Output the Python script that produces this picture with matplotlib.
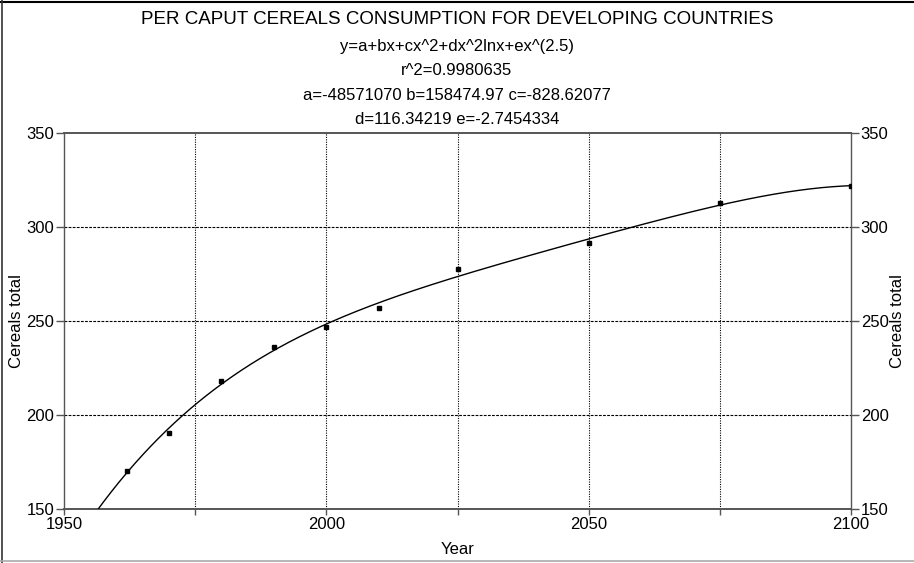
import numpy as np
import matplotlib
matplotlib.use("Agg")
import matplotlib.pyplot as plt
from matplotlib.lines import Line2D

# Observed / projected per caput cereals consumption
years = [1962, 1970, 1980, 1990, 2000, 2010, 2025, 2050, 2075, 2100]
cereals = [170.4, 190.3, 218.1, 236.3, 246.8, 256.8, 277.7, 291.3, 312.6, 321.8]

title = "PER CAPUT CEREALS CONSUMPTION FOR DEVELOPING COUNTRIES"
eq_lines = [
    "y=a+bx+cx^2+dx^2lnx+ex^(2.5)",
    "r^2=0.9980635",
    "a=-48571070 b=158474.97 c=-828.62077",
    "d=116.34219 e=-2.7454334",
]
x_ticks = [1950, 2000, 2050, 2100]
x_minor = [1975, 2025, 2075]
y_ticks = [150, 200, 250, 300, 350]

plt.rcParams["font.family"] = ["Liberation Sans", "DejaVu Sans"]

W, H = 914, 563
fig = plt.figure(figsize=(W / 100, H / 100), dpi=100)

L, R, T, B = 64, 851, 133, 509
ax = fig.add_axes([L / W, 1 - B / H, (R - L) / W, (B - T) / H])
ax.set_xlim(1950, 2100)
ax.set_ylim(150, 350)

# Least-squares fit of y = a + b x + c x^2 + d x^2 ln x + e x^2.5 (x scaled for conditioning)
xd = np.array(years, dtype=float)
yd = np.array(cereals, dtype=float)
def basis(x):
    t = x / 2000.0
    return np.column_stack([np.ones_like(t), t, t**2, t**2 * np.log(t), t**2.5])
coef, *_ = np.linalg.lstsq(basis(xd), yd, rcond=None)
xc = np.linspace(1950, 2100, 600)
yc = basis(xc) @ coef

# grid
for xv in [1975, 2000, 2025, 2050, 2075]:
    ax.axvline(xv, color="black", lw=0.8, dashes=(1, 1.2), zorder=1)
for yv in [200, 250, 300]:
    ax.axhline(yv, color="black", lw=0.8, dashes=(2.5, 1.2), zorder=1)

ax.plot(xc, yc, color="black", lw=1.0, zorder=3)
ax.plot(xd, yd, "s", color="black", ms=2.3, zorder=4)

for side in ["top", "bottom"]:
    ax.spines[side].set_color("#555555")
    ax.spines[side].set_linewidth(1.4)
for side in ["left", "right"]:
    ax.spines[side].set_color("#555555")
    ax.spines[side].set_linewidth(1.0)

fs = 12
ax.set_xticks(x_ticks)
ax.set_xticks(x_minor, minor=True)
ax.set_yticks(y_ticks)
ax.tick_params(axis="x", which="both", direction="out", length=4, width=1, color="#555555",
               labelsize=fs, pad=2)
ax.tick_params(axis="y", which="both", direction="out", length=6, width=1, color="#555555",
               labelsize=fs, pad=1, left=True, right=True, labelleft=True, labelright=True)
ax.set_xlabel("Year", fontsize=fs, labelpad=7)
fig.text(17 / W, 1 - 321 / H, "Cereals total", rotation=90, ha="center", va="center", fontsize=fs)
fig.text(898 / W, 1 - 321 / H, "Cereals total", rotation=90, ha="center", va="center", fontsize=fs)

fig.text(457 / W, 1 - 20 / H, title, ha="center", va="center", fontsize=13.5)
for i, line in enumerate(eq_lines):
    fig.text(457 / W, 1 - (46 + 24.5 * i) / H, line, ha="center", va="center", fontsize=fs)

# window frame
fig.add_artist(Line2D([0, 1], [1 - 2 / H] * 2, transform=fig.transFigure, color="black", lw=1.5))
fig.add_artist(Line2D([2 / W] * 2, [0, 1], transform=fig.transFigure, color="#333333", lw=1.2))
fig.add_artist(Line2D([0, 1], [1 - 561 / H] * 2, transform=fig.transFigure, color="#aaaaaa", lw=1.2))

fig.savefig("out.png", dpi=100)
